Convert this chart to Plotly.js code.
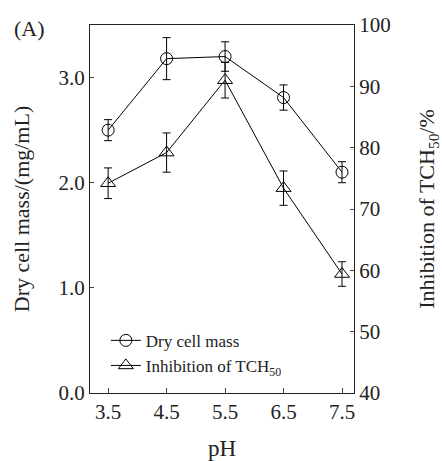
<!DOCTYPE html>
<html><head><meta charset="utf-8">
<script src="https://cdn.plot.ly/plotly-3.0.1.min.js"></script>
<style>html,body{margin:0;padding:0;background:#fff}#c{width:442px;height:461px}</style>
</head><body><div id="c"></div>
<script>
const pH = [3.5, 4.5, 5.5, 6.5, 7.5];
const dryMass = [2.50, 3.18, 3.20, 2.81, 2.10];
const dryMassErr = [0.10, 0.20, 0.14, 0.12, 0.10];
const inhibition = [74.2, 79.2, 91.0, 73.4, 59.4];
const inhibitionErr = [2.5, 3.2, 2.9, 2.8, 2.0];
const xTicks = ['3.5', '4.5', '5.5', '6.5', '7.5'];

const F = 'Liberation Serif, Times New Roman, serif';
const traces = [
  {x: pH, y: dryMass, name: 'Dry cell mass', type: 'scatter', mode: 'lines+markers',
   legendgroup: 'a',
   line: {color: '#000', width: 1},
   marker: {symbol: 'circle-open', size: 12, color: '#000', line: {width: 1}},
   error_y: {type: 'data', array: dryMassErr, visible: true, color: '#000', thickness: 1, width: 4},
   yaxis: 'y'},
  {x: pH, y: inhibition, name: 'Inhibition of TCH<sub>50</sub>', type: 'scatter', mode: 'lines+markers',
   legendgroup: 'b',
   line: {color: '#000', width: 1},
   marker: {symbol: 'triangle-up-open', size: 13, color: '#000', line: {width: 1}},
   error_y: {type: 'data', array: inhibitionErr, visible: true, color: '#000', thickness: 1, width: 4},
   yaxis: 'y2'}
];
const layout = {
  width: 442, height: 461,
  margin: {l: 90, r: 88, t: 25, b: 68},
  paper_bgcolor: '#fff', plot_bgcolor: '#fff',
  font: {family: F, size: 21, color: '#222'},
  showlegend: true,
  legend: {x: 0.06, y: 0.025, xanchor: 'left', yanchor: 'bottom', bgcolor: 'rgba(0,0,0,0)',
           font: {family: F, size: 17, color: '#222'}, tracegroupgap: 0, itemwidth: 30},
  xaxis: {range: [3.19, 7.705], tickvals: pH, ticktext: xTicks, ticks: 'inside', ticklen: 5,
          showline: true, linecolor: '#222', linewidth: 1, mirror: true, showgrid: false, zeroline: false,
          title: {text: 'pH', font: {family: F, size: 23}, standoff: 18}},
  yaxis: {range: [0, 3.5], tickvals: [0, 1, 2, 3], ticktext: ['0.0', '1.0', '2.0', '3.0'], ticks: 'inside', ticklen: 4,
          showline: true, linecolor: '#222', linewidth: 1, showgrid: false, zeroline: false,
          title: {text: 'Dry cell mass/(mg/mL)', font: {family: F, size: 22}, standoff: 22}},
  yaxis2: {range: [40, 100], dtick: 10, overlaying: 'y', side: 'right', ticks: 'inside', ticklen: 4,
          showline: true, linecolor: '#222', linewidth: 1, showgrid: false, zeroline: false,
          title: {text: 'Inhibition of TCH<sub>50</sub>/%', font: {family: F, size: 22}, standoff: 30}},
  annotations: [{text: '(A)', xref: 'paper', yref: 'paper', x: -0.295, y: 1.03, xanchor: 'left', yanchor: 'top',
                 showarrow: false, font: {family: F, size: 22, color: '#222'}}]
};
Plotly.newPlot('c', traces, layout, {displayModeBar: false});
</script></body></html>
